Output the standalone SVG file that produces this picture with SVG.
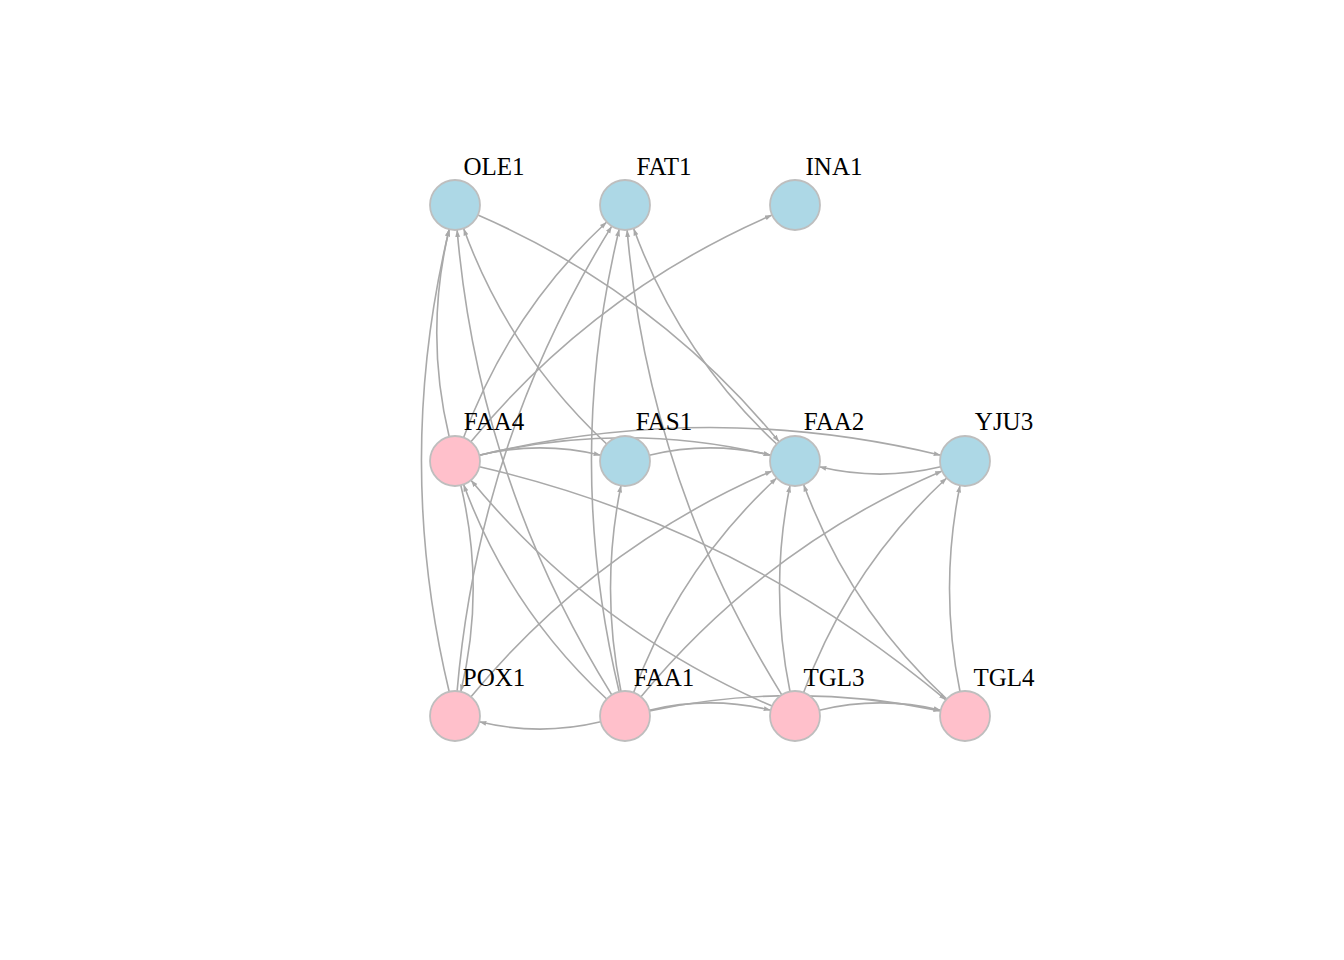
<svg xmlns="http://www.w3.org/2000/svg" width="1344" height="960" viewBox="0 0 1344 960">
<style>
.e{fill:none;stroke:#A9A9A9;stroke-width:1.6;marker-end:url(#ah)}
.b{fill:#ADD8E6;stroke:#BEBEBE;stroke-width:1.8}
.p{fill:#FFC0CB;stroke:#BEBEBE;stroke-width:1.8}
.t{font-family:"Liberation Serif","Times New Roman",serif;font-size:25px;fill:#000;text-anchor:middle}
</style>
<defs>
<marker id="ah" markerUnits="userSpaceOnUse" markerWidth="8" markerHeight="6" refX="7" refY="3" orient="auto">
<path d="M0,0.5 L7,3 L0,5.5 z" fill="#A9A9A9"/>
</marker>
</defs>
<rect width="1344" height="960" fill="#fff"/>
<g id="connectors">
<path class="e" d="M449.2,691.7 Q393.7,460.5 449.2,229.3"/>
<path class="e" d="M449.2,436.7 Q424.3,333 449.2,229.3"/>
<path class="e" d="M611.8,694.8 Q478.7,480.9 457.1,229.9"/>
<path class="e" d="M606.7,444 Q509.3,353.4 463.6,228.5"/>
<path class="e" d="M477.9,215 Q655.7,292.2 779.1,441.7"/>
<path class="e" d="M463.6,437.5 Q509.3,312.6 606.7,222"/>
<path class="e" d="M457.1,691.1 Q478.7,440.1 611.8,226.2"/>
<path class="e" d="M619.2,691.7 Q563.7,460.5 619.2,229.3"/>
<path class="e" d="M781.8,694.8 Q648.7,480.9 627.1,229.9"/>
<path class="e" d="M776.7,444 Q679.3,353.4 633.6,228.5"/>
<path class="e" d="M470.9,441.7 Q594.3,292.2 772.1,215"/>
<path class="e" d="M479.3,455.2 Q540,440.6 600.7,455.2"/>
<path class="e" d="M479.3,455.2 Q625,420.2 770.7,455.2"/>
<path class="e" d="M479.3,455.2 Q710,399.8 940.7,455.2"/>
<path class="e" d="M479.4,466.7 Q740.6,527.3 945.9,699.9"/>
<path class="e" d="M460.8,485.3 Q485.6,588.5 460.8,691.7"/>
<path class="e" d="M649.3,455.2 Q710,440.6 770.7,455.2"/>
<path class="e" d="M940.7,466.8 Q880,481.4 819.3,466.8"/>
<path class="e" d="M606.7,699 Q509.4,608.9 463.6,484.5"/>
<path class="e" d="M772.1,706.1 Q594.4,629.3 471,480.3"/>
<path class="e" d="M600.7,721.8 Q540,736.4 479.3,721.8"/>
<path class="e" d="M471,696.7 Q594.4,547.7 772.1,470.9"/>
<path class="e" d="M621,691.5 Q600,588.5 621,485.5"/>
<path class="e" d="M633.6,692.5 Q679.4,568.1 776.7,478"/>
<path class="e" d="M641,696.7 Q764.4,547.7 942.1,470.9"/>
<path class="e" d="M649.3,710.2 Q710,695.6 770.7,710.2"/>
<path class="e" d="M649.5,710.9 Q795,680.3 940.5,710.9"/>
<path class="e" d="M790,691.5 Q769,588.5 790,485.5"/>
<path class="e" d="M803.6,692.5 Q849.4,568.1 946.7,478"/>
<path class="e" d="M819.3,710.2 Q880,695.6 940.7,710.2"/>
<path class="e" d="M946.7,699 Q849.4,608.9 803.6,484.5"/>
<path class="e" d="M960,691.5 Q939,588.5 960,485.5"/>
</g>
<g id="OLE1"><circle class="b" cx="455" cy="205" r="25"/><text class="t" x="494" y="175">OLE1</text></g>
<g id="FAT1"><circle class="b" cx="625" cy="205" r="25"/><text class="t" x="664" y="175">FAT1</text></g>
<g id="INA1"><circle class="b" cx="795" cy="205" r="25"/><text class="t" x="834" y="175">INA1</text></g>
<g id="FAA4"><circle class="p" cx="455" cy="461" r="25"/><text class="t" x="494" y="430">FAA4</text></g>
<g id="FAS1"><circle class="b" cx="625" cy="461" r="25"/><text class="t" x="664" y="430">FAS1</text></g>
<g id="FAA2"><circle class="b" cx="795" cy="461" r="25"/><text class="t" x="834" y="430">FAA2</text></g>
<g id="YJU3"><circle class="b" cx="965" cy="461" r="25"/><text class="t" x="1004" y="430">YJU3</text></g>
<g id="POX1"><circle class="p" cx="455" cy="716" r="25"/><text class="t" x="494" y="686">POX1</text></g>
<g id="FAA1"><circle class="p" cx="625" cy="716" r="25"/><text class="t" x="664" y="686">FAA1</text></g>
<g id="TGL3"><circle class="p" cx="795" cy="716" r="25"/><text class="t" x="834" y="686">TGL3</text></g>
<g id="TGL4"><circle class="p" cx="965" cy="716" r="25"/><text class="t" x="1004" y="686">TGL4</text></g>
</svg>
